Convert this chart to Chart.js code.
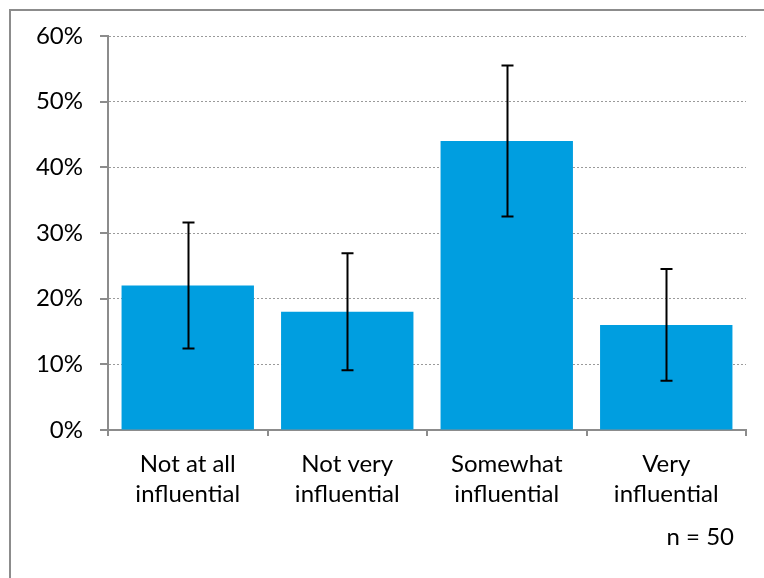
<!DOCTYPE html>
<html><head><meta charset="utf-8">
<script src="https://cdn.jsdelivr.net/npm/chart.js@4/dist/chart.umd.min.js"></script>
<style>html,body{margin:0;padding:0;background:#fff;overflow:hidden}#wrap{width:764px;height:578px;position:relative}</style>
</head><body><div id="wrap"><canvas id="c" width="764" height="578"></canvas></div>
<script>
const categories = [["Not at all","influential"],["Not very","influential"],["Somewhat","influential"],["Very","influential"]];
const values = [22, 18, 44, 16];
const errLow = [12.4, 9.1, 32.5, 7.5];
const errHigh = [31.6, 26.9, 55.5, 24.5];
const yTicks = [0, 10, 20, 30, 40, 50, 60];
const note = "n = 50";
const FONT = "Lato, 'Open Sans', sans-serif";

const frame = {
  id: 'frame',
  beforeDraw(chart) {
    const ctx = chart.ctx;
    ctx.save();
    ctx.fillStyle = '#fff';
    ctx.fillRect(0, 0, chart.width, chart.height);
    ctx.strokeStyle = '#8c8c8c';
    ctx.lineWidth = 2;
    ctx.beginPath();
    ctx.moveTo(10, chart.height + 10);
    ctx.lineTo(10, 10);
    ctx.lineTo(chart.width + 10, 10);
    ctx.stroke();
    ctx.restore();
  },
  afterDraw(chart) {
    const ctx = chart.ctx;
    ctx.save();
    ctx.font = "24px " + FONT;
    ctx.fillStyle = '#000';
    ctx.textAlign = 'right';
    ctx.textBaseline = 'alphabetic';
    ctx.fillText(note, chart.chartArea.right - 12, 545);
    ctx.restore();
  }
};

const errorBars = {
  id: 'errorBars',
  afterDatasetsDraw(chart) {
    const ctx = chart.ctx;
    const y = chart.scales.y;
    const meta = chart.getDatasetMeta(0);
    ctx.save();
    ctx.strokeStyle = '#000';
    ctx.lineWidth = 2;
    meta.data.forEach((bar, i) => {
      const x = Math.round(bar.x) + 0.5;
      const yl = y.getPixelForValue(errLow[i]);
      const yh = y.getPixelForValue(errHigh[i]);
      ctx.beginPath();
      ctx.moveTo(x, yl); ctx.lineTo(x, yh);
      ctx.moveTo(x - 6, yl); ctx.lineTo(x + 6, yl);
      ctx.moveTo(x - 6, yh); ctx.lineTo(x + 6, yh);
      ctx.stroke();
    });
    ctx.restore();
  }
};

const yTickMarks = {
  id: 'yTickMarks',
  afterDraw(chart) {
    const ctx = chart.ctx, y = chart.scales.y, a = chart.chartArea;
    ctx.save();
    ctx.strokeStyle = '#8c8c8c';
    ctx.lineWidth = 2;
    yTicks.forEach(v => {
      const py = Math.round(y.getPixelForValue(v));
      ctx.beginPath();
      ctx.moveTo(a.left - 8, py); ctx.lineTo(a.left, py);
      ctx.stroke();
    });
    ctx.restore();
  }
};

new Chart(document.getElementById('c'), {
  type: 'bar',
  data: {
    labels: categories,
    datasets: [{
      data: values,
      backgroundColor: '#009ee0',
      borderWidth: 0,
      barPercentage: 0.83,
      categoryPercentage: 1.0
    }]
  },
  options: {
    responsive: false,
    animation: false,
    devicePixelRatio: 1,
    layout: { padding: { left: 10, right: 18, top: 36, bottom: 0 } },
    plugins: { legend: { display: false }, tooltip: { enabled: false }, title: { display: false } },
    scales: {
      x: {
        afterFit(s) { s.height = 148; },
        grid: { display: true, drawOnChartArea: false, drawTicks: true, tickLength: 6, color: '#8c8c8c', lineWidth: 2, offset: true },
        border: { display: true, color: '#8c8c8c', width: 2 },
        ticks: { color: '#000', font: { family: FONT, size: 24, lineHeight: 1.25 }, padding: 13, maxRotation: 0, autoSkip: false }
      },
      y: {
        min: 0, max: 60,
        afterFit(s) { s.width = 98; s.paddingTop = 0; s.paddingBottom = 0; },
        afterBuildTicks(s) { s.ticks = yTicks.map(v => ({ value: v })); },
        grid: { color: '#9a9a9a', lineWidth: 1, drawTicks: false },
        border: { display: true, color: '#8c8c8c', width: 2, dash: [2, 2] },
        ticks: { color: '#000', font: { family: FONT, size: 24 }, padding: 25, callback: v => v + '%' }
      }
    }
  },
  plugins: [frame, errorBars, yTickMarks]
});
</script></body></html>
